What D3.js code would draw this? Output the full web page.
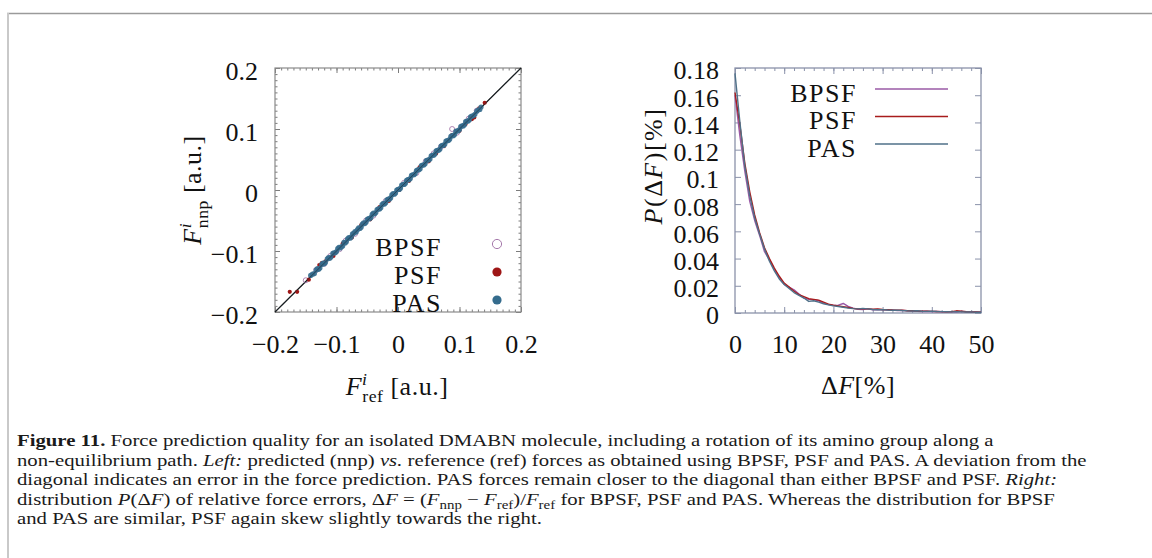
<!DOCTYPE html>
<html><head><meta charset="utf-8">
<script src="https://cdn.jsdelivr.net/npm/d3@7"></script>
<style>body{margin:0;background:#fff}svg{display:block}</style>
</head><body>
<svg id="fig" width="1152" height="558"></svg>
<script>
// ---- Left panel: predicted vs reference forces [ref, nnp] ----
const scatterBPSF = [[-0.150,-0.148],[-0.133,-0.131],[-0.120,-0.121],[-0.110,-0.108],[-0.095,-0.097],[-0.085,-0.083],[-0.070,-0.072],[-0.052,-0.050],[-0.040,-0.042],[-0.020,-0.018],[0.010,0.012],[0.030,0.028],[0.045,0.047],[0.058,0.060],[0.070,0.071],[0.088,0.100],[0.096,0.094],[0.115,0.117],[0.128,0.130]];
const scatterPSF = [[-0.176,-0.167],[-0.164,-0.167],[-0.145,-0.147],[-0.128,-0.123],[-0.124,-0.120],[-0.118,-0.117],[-0.105,-0.108],[-0.090,-0.088],[-0.075,-0.078],[-0.060,-0.058],[-0.045,-0.048],[-0.030,-0.028],[-0.015,-0.018],[0.002,0.000],[0.018,0.015],[0.035,0.037],[0.050,0.047],[0.062,0.060],[0.075,0.072],[0.088,0.090],[0.100,0.097],[0.110,0.108],[0.120,0.116],[0.124,0.119],[0.132,0.134],[0.141,0.143]];
const scatterPAS = [[-0.142,-0.140],[-0.139,-0.138],[-0.136,-0.137],[-0.133,-0.131],[-0.131,-0.129],[-0.129,-0.130],[-0.127,-0.128],[-0.124,-0.122],[-0.122,-0.120],[-0.120,-0.121],[-0.118,-0.119],[-0.115,-0.113],[-0.113,-0.111],[-0.111,-0.112],[-0.109,-0.110],[-0.106,-0.104],[-0.104,-0.103],[-0.102,-0.103],[-0.100,-0.101],[-0.098,-0.096],[-0.096,-0.094],[-0.094,-0.095],[-0.092,-0.093],[-0.090,-0.092],[-0.088,-0.086],[-0.086,-0.087],[-0.084,-0.085],[-0.082,-0.080],[-0.080,-0.078],[-0.078,-0.079],[-0.076,-0.077],[-0.074,-0.072],[-0.072,-0.071],[-0.070,-0.068],[-0.068,-0.069],[-0.066,-0.065],[-0.064,-0.062],[-0.062,-0.063],[-0.060,-0.061],[-0.058,-0.056],[-0.056,-0.054],[-0.054,-0.055],[-0.052,-0.053],[-0.050,-0.048],[-0.048,-0.047],[-0.046,-0.047],[-0.044,-0.045],[-0.042,-0.040],[-0.040,-0.038],[-0.038,-0.039],[-0.036,-0.037],[-0.034,-0.032],[-0.032,-0.031],[-0.030,-0.031],[-0.028,-0.029],[-0.026,-0.024],[-0.024,-0.022],[-0.022,-0.023],[-0.020,-0.021],[-0.018,-0.016],[-0.016,-0.015],[-0.014,-0.015],[-0.012,-0.013],[-0.010,-0.008],[-0.008,-0.006],[-0.006,-0.007],[-0.004,-0.005],[-0.002,0.000],[0.000,0.001],[0.002,0.001],[0.004,0.003],[0.006,0.008],[0.008,0.009],[0.010,0.009],[0.012,0.011],[0.014,0.016],[0.016,0.017],[0.018,0.017],[0.020,0.019],[0.022,0.024],[0.024,0.025],[0.026,0.025],[0.028,0.027],[0.030,0.032],[0.032,0.033],[0.034,0.033],[0.036,0.035],[0.038,0.040],[0.040,0.041],[0.042,0.041],[0.044,0.043],[0.046,0.048],[0.048,0.049],[0.050,0.049],[0.052,0.051],[0.054,0.056],[0.056,0.057],[0.058,0.057],[0.060,0.059],[0.062,0.064],[0.064,0.065],[0.066,0.065],[0.068,0.067],[0.070,0.072],[0.072,0.073],[0.074,0.073],[0.076,0.075],[0.078,0.080],[0.080,0.081],[0.082,0.081],[0.084,0.083],[0.086,0.088],[0.088,0.089],[0.090,0.089],[0.092,0.091],[0.094,0.096],[0.096,0.097],[0.098,0.097],[0.100,0.099],[0.102,0.104],[0.104,0.105],[0.106,0.105],[0.108,0.107],[0.110,0.112],[0.112,0.113],[0.114,0.113],[0.116,0.115],[0.118,0.120],[0.120,0.121],[0.123,0.122],[0.125,0.124],[0.128,0.129],[0.130,0.131],[0.133,0.132],[0.135,0.136]];
const forceTicks = [-0.2, -0.1, 0, 0.1, 0.2];

// ---- Right panel: distribution of relative errors, DeltaF = 0..50 % ----
const deltaF = [0,1,2,3,4,5,6,7,8,9,10,11,12,13,14,15,16,17,18,19,20,21,22,23,24,25,26,27,28,29,30,31,32,33,34,35,36,37,38,39,40,41,42,43,44,45,46,47,48,49,50];
const probBPSF = [0.160,0.130,0.104,0.082,0.068,0.057,0.045,0.039,0.032,0.026,0.021,0.019,0.017,0.014,0.011,0.0100,0.0098,0.0090,0.0072,0.0062,0.0055,0.0058,0.0070,0.0048,0.0035,0.0028,0.0026,0.0030,0.0024,0.0026,0.0023,0.0021,0.0022,0.0018,0.0019,0.0016,0.0014,0.0012,0.0011,0.0013,0.0010,0.0012,0.0009,0.0010,0.0008,0.0007,0.0012,0.0009,0.0007,0.0008,0.0006];
const probPSF = [0.162,0.138,0.110,0.089,0.072,0.059,0.048,0.040,0.033,0.027,0.022,0.019,0.016,0.0135,0.0120,0.0105,0.0100,0.0095,0.0080,0.0065,0.0058,0.0052,0.0046,0.0040,0.0034,0.0030,0.0032,0.0030,0.0028,0.0029,0.0026,0.0025,0.0022,0.0020,0.0021,0.0017,0.0016,0.0015,0.0013,0.0014,0.0012,0.0011,0.0010,0.0008,0.0010,0.0016,0.0014,0.0009,0.0008,0.0007,0.0006];
const probPAS = [0.176,0.140,0.108,0.086,0.070,0.058,0.047,0.038,0.031,0.025,0.021,0.018,0.015,0.013,0.011,0.0085,0.0090,0.0080,0.0068,0.0060,0.0052,0.0048,0.0042,0.0036,0.0032,0.0030,0.0034,0.0030,0.0026,0.0024,0.0025,0.0022,0.0020,0.0021,0.0018,0.0016,0.0015,0.0017,0.0013,0.0012,0.0014,0.0011,0.0010,0.0009,0.0008,0.0010,0.0008,0.0007,0.0008,0.0006,0.0005];
const errTicksX = [0, 10, 20, 30, 40, 50];
const errTicksY = [0, 0.02, 0.04, 0.06, 0.08, 0.1, 0.12, 0.14, 0.16, 0.18];

const seriesNames = ["BPSF", "PSF", "PAS"];
const colors = {BPSF: "#a679ab", PSF: "#9e1616", PAS: "#356c8d"};
const lineColors = {BPSF: "#9a5aa6", PSF: "#a81c1c", PAS: "#4f7088"};

const SERIF = "'Liberation Serif', 'Times New Roman', serif";
const svg = d3.select("#fig");

// page frame
svg.append("line").attr("x1", 7).attr("x2", 1152).attr("y1", 13.5).attr("y2", 13.5)
  .attr("stroke", "#9a9a9a").attr("stroke-width", 1.3);
svg.append("rect").attr("x", 7).attr("y", 13).attr("width", 2).attr("height", 545).attr("fill", "#c9c9c9");

const fmtSigned = d => {
  const s = String(+Math.abs(d).toFixed(2));
  return (d < 0 ? "\u2212" : "") + s;
};

// helper: draw text made of styled segments (italic, superscript, subscript)
function mathText(sel, segs, size, spacing) {
  const t = sel.append("text").attr("font-family", SERIF).attr("font-size", size).attr("fill", "#111");
  if (spacing) t.attr("letter-spacing", spacing);
  let shift = 0;
  segs.forEach(([str, st]) => {
    const sp = t.append("tspan").text(str);
    let target = 0;
    if (st.includes("sup")) { target = -0.4 * size; sp.attr("font-size", size * 0.68); }
    if (st.includes("sub")) { target = 0.28 * size; sp.attr("font-size", size * 0.68); }
    if (st.includes("i")) sp.attr("font-style", "italic");
    if (st.includes("back")) sp.attr("dx", -size * 0.2);
    sp.attr("dy", target - shift);
    shift = target;
  });
  return t;
}

// ================= Left panel =================
const xL = d3.scaleLinear().domain([-0.2, 0.2]).range([275, 521]);
const yL = d3.scaleLinear().domain([-0.2, 0.2]).range([312, 68]);
const minorF = d3.range(-20, 21).map(i => i / 100);
const tickGray = "#7c7c7c";

const gL = svg.append("g");
function styleAxis(g, col) {
  g.select(".domain").remove();
  g.selectAll(".tick line").attr("stroke", col).attr("stroke-width", 1);
}
gL.append("g").attr("transform", `translate(0,${yL.range()[0]})`)
  .call(d3.axisBottom(xL).tickValues(minorF).tickSize(-2.5).tickFormat("")).call(g => styleAxis(g, tickGray));
gL.append("g").attr("transform", `translate(0,${yL.range()[1]})`)
  .call(d3.axisTop(xL).tickValues(minorF).tickSize(-2.5).tickFormat("")).call(g => styleAxis(g, tickGray));
gL.append("g").attr("transform", `translate(${xL.range()[0]},0)`)
  .call(d3.axisLeft(yL).tickValues(minorF).tickSize(-2.5).tickFormat("")).call(g => styleAxis(g, tickGray));
gL.append("g").attr("transform", `translate(${xL.range()[1]},0)`)
  .call(d3.axisRight(yL).tickValues(minorF).tickSize(-2.5).tickFormat("")).call(g => styleAxis(g, tickGray));

const axLB = gL.append("g").attr("transform", `translate(0,${yL.range()[0]})`)
  .call(d3.axisBottom(xL).tickValues(forceTicks).tickSize(-5).tickPadding(22.5).tickFormat(fmtSigned));
styleAxis(axLB, tickGray);
gL.append("g").attr("transform", `translate(0,${yL.range()[1]})`)
  .call(d3.axisTop(xL).tickValues(forceTicks).tickSize(-5).tickFormat("")).call(g => styleAxis(g, tickGray));
const axLL = gL.append("g").attr("transform", `translate(${xL.range()[0]},0)`)
  .call(d3.axisLeft(yL).tickValues(forceTicks).tickSize(-5).tickPadding(17).tickFormat(fmtSigned));
styleAxis(axLL, tickGray);
axLL.selectAll("text").attr("dy", "0.46em");
gL.append("g").attr("transform", `translate(${xL.range()[1]},0)`)
  .call(d3.axisRight(yL).tickValues(forceTicks).tickSize(-5).tickFormat("")).call(g => styleAxis(g, tickGray));
[axLB, axLL].forEach(a => a.selectAll("text").attr("font-family", SERIF).attr("font-size", 26).attr("fill", "#111"));

gL.append("rect").attr("x", 275).attr("y", 68).attr("width", 246).attr("height", 244)
  .attr("fill", "none").attr("stroke", "#8a8a8a").attr("stroke-width", 1.2);

// diagonal y = x
gL.append("line").attr("x1", xL(-0.2)).attr("y1", yL(-0.2)).attr("x2", xL(0.2)).attr("y2", yL(0.2))
  .attr("stroke", "#111").attr("stroke-width", 1.2);

gL.append("g").selectAll("circle").data(scatterBPSF).join("circle")
  .attr("cx", d => xL(d[0])).attr("cy", d => yL(d[1])).attr("r", 2.5)
  .attr("fill", "none").attr("stroke", colors.BPSF).attr("stroke-width", 0.9);
gL.append("g").selectAll("circle").data(scatterPSF).join("circle")
  .attr("cx", d => xL(d[0])).attr("cy", d => yL(d[1])).attr("r", 2.1)
  .attr("fill", colors.PSF);
gL.append("g").selectAll("circle").data(scatterPAS).join("circle")
  .attr("cx", d => xL(d[0])).attr("cy", d => yL(d[1])).attr("r", 2.6)
  .attr("fill", colors.PAS).attr("opacity", 0.9);
// diagonal again, thinly over the points
gL.append("line").attr("x1", xL(-0.2)).attr("y1", yL(-0.2)).attr("x2", xL(0.2)).attr("y2", yL(0.2))
  .attr("stroke", "#1a2a33").attr("stroke-width", 0.8).attr("opacity", 0.75);

// left legend
seriesNames.forEach((name, i) => {
  const y = 244 + i * 28;
  gL.append("text").attr("x", 442).attr("y", y + 12).attr("text-anchor", "end")
    .attr("font-family", SERIF).attr("font-size", 26).attr("letter-spacing", 1.5).attr("fill", "#111").text(name);
  const c = gL.append("circle").attr("cx", 497).attr("cy", y).attr("r", 4.6);
  if (name === "BPSF") c.attr("fill", "none").attr("stroke", colors.BPSF).attr("stroke-width", 1);
  else c.attr("fill", colors[name]);
});

// left axis titles
mathText(gL, [["F", "i"], ["i", "i sup"], ["ref", "sub back"], [" [a.u.]", ""]], 26, 0.5)
  .attr("x", 397).attr("y", 395).attr("text-anchor", "middle");
mathText(gL, [["F", "i"], ["i", "i sup"], ["nnp", "sub back"], [" [a.u.]", ""]], 26, 0.5)
  .attr("text-anchor", "middle").attr("transform", "translate(201,190) rotate(-90)");

// ================= Right panel =================
const xR = d3.scaleLinear().domain([0, 50]).range([735, 981]);
const yR = d3.scaleLinear().domain([0, 0.18]).range([313, 68]);
const blueGray = "#8b92aa";
const minorE = d3.range(0, 51, 2);
const gR = svg.append("g");

gR.append("g").attr("transform", `translate(0,${yR.range()[0]})`)
  .call(d3.axisBottom(xR).tickValues(minorE).tickSize(-3).tickFormat("")).call(g => styleAxis(g, blueGray));
gR.append("g").attr("transform", `translate(0,${yR.range()[1]})`)
  .call(d3.axisTop(xR).tickValues(minorE).tickSize(-3).tickFormat("")).call(g => styleAxis(g, blueGray));
const axRB = gR.append("g").attr("transform", `translate(0,${yR.range()[0]})`)
  .call(d3.axisBottom(xR).tickValues(errTicksX).tickSize(-6).tickPadding(21.5).tickFormat(fmtSigned));
styleAxis(axRB, blueGray);
gR.append("g").attr("transform", `translate(0,${yR.range()[1]})`)
  .call(d3.axisTop(xR).tickValues(errTicksX).tickSize(-6).tickFormat("")).call(g => styleAxis(g, blueGray));
const axRL = gR.append("g").attr("transform", `translate(${xR.range()[0]},0)`)
  .call(d3.axisLeft(yR).tickValues(errTicksY).tickSize(-6).tickPadding(16).tickFormat(fmtSigned));
styleAxis(axRL, blueGray);
axRL.selectAll("text").attr("dy", "0.42em");
gR.append("g").attr("transform", `translate(${xR.range()[1]},0)`)
  .call(d3.axisRight(yR).tickValues(errTicksY).tickSize(-6).tickFormat("")).call(g => styleAxis(g, blueGray));
[axRB, axRL].forEach(a => a.selectAll("text").attr("font-family", SERIF).attr("font-size", 26).attr("fill", "#111"));

gR.append("rect").attr("x", 735).attr("y", 68).attr("width", 246).attr("height", 245)
  .attr("fill", "none").attr("stroke", blueGray).attr("stroke-width", 1.3);

const probs = {BPSF: probBPSF, PSF: probPSF, PAS: probPAS};
const line = d3.line().x((d, i) => xR(deltaF[i])).y(d => yR(d));
seriesNames.forEach(name => {
  gR.append("path").datum(probs[name]).attr("d", line)
    .attr("fill", "none").attr("stroke", lineColors[name]).attr("stroke-width", 1.4)
    .attr("stroke-linejoin", "round");
});

// right legend
seriesNames.forEach((name, i) => {
  const y = 89 + i * 27.5;
  gR.append("text").attr("x", 857).attr("y", y + 12.5).attr("text-anchor", "end")
    .attr("font-family", SERIF).attr("font-size", 26).attr("letter-spacing", 1.5).attr("fill", "#111").text(name);
  gR.append("line").attr("x1", 875).attr("x2", 948).attr("y1", y).attr("y2", y)
    .attr("stroke", lineColors[name]).attr("stroke-width", 1.6);
});

// right axis titles
mathText(gR, [["\u0394", ""], ["F", "i"], ["[%]", ""]], 26, 0.5)
  .attr("x", 858).attr("y", 394).attr("text-anchor", "middle");
mathText(gR, [["P", "i"], ["(\u0394", ""], ["F", "i"], [")[%]", ""]], 26, 1.5)
  .attr("text-anchor", "middle").attr("transform", "translate(662,166) rotate(-90)");

// ================= Caption =================
const captionLines = [
  [["Figure 11.", "b"], [" Force prediction quality for an isolated DMABN molecule, including a rotation of its amino group along a", ""]],
  [["non-equilibrium path. ", ""], ["Left:", "i"], [" predicted (nnp) ", ""], ["vs.", "i"], [" reference (ref) forces as obtained using BPSF, PSF and PAS. A deviation from the", ""]],
  [["diagonal indicates an error in the force prediction. PAS forces remain closer to the diagonal than either BPSF and PSF. ", ""], ["Right:", "i"]],
  [["distribution ", ""], ["P", "i"], ["(\u0394", ""], ["F", "i"], [") of relative force errors, \u0394", ""], ["F", "i"], [" = (", ""], ["F", "i"], ["nnp", "sub"], [" \u2212 ", ""], ["F", "i"], ["ref", "sub"], [")/", ""], ["F", "i"], ["ref", "sub"], [" for BPSF, PSF and PAS. Whereas the distribution for BPSF", ""]],
  [["and PAS are similar, PSF again skew slightly towards the right.", ""]]
];
const capG = svg.append("g");
const CAP_FS = 17.2, CAP_X = 17, CAP_W = 1070;
function drawCaption(sx) {
  capG.selectAll("*").remove();
  capG.attr("transform", `scale(${sx},1)`);
  return captionLines.map((segs, li) => {
    const t = capG.append("text").attr("x", CAP_X / sx).attr("y", 446 + li * 19.6)
      .attr("font-family", SERIF).attr("font-size", CAP_FS).attr("fill", "#1a1a1a");
    let shift = 0;
    segs.forEach(([str, st]) => {
      const sp = t.append("tspan").text(str);
      let target = 0;
      if (st === "b") sp.attr("font-weight", "bold");
      if (st === "i") sp.attr("font-style", "italic");
      if (st === "sub") { target = 0.22 * CAP_FS; sp.attr("font-size", CAP_FS * 0.72); }
      sp.attr("dy", target - shift);
      shift = target;
    });
    return t;
  });
}
// widen the glyphs so the longest line fills the text block
const wNat = drawCaption(1)[1].node().getBBox().width;
drawCaption(Math.max(1, CAP_W / wNat));
</script></body></html>
